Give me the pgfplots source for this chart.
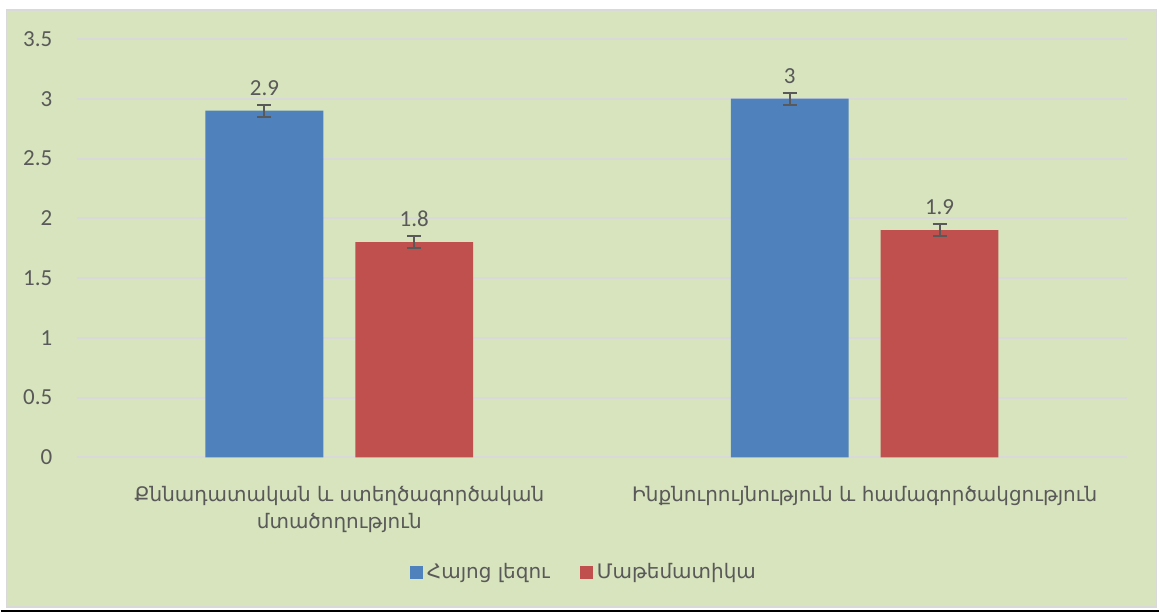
\documentclass[border=0pt]{standalone}
\usepackage{fontspec}
\setmainfont{Carlito}
\newfontfamily\armfont{DejaVu Sans}
\usepackage{pgfplots}
\pgfplotsset{compat=1.18}

\definecolor{bggreen}{HTML}{D7E4BD}
\definecolor{framegrey}{HTML}{D9D9D9}
\definecolor{gridgrey}{HTML}{D9D9D9}
\definecolor{txtgrey}{HTML}{595959}
\definecolor{barblue}{HTML}{4F81BD}
\definecolor{barred}{HTML}{C0504D}

\begin{document}
\begin{tikzpicture}
  % page and chart area
  \fill[white] (0,0) rectangle (580pt,307pt);
  \filldraw[fill=bggreen, draw=framegrey, line width=0.75pt] (3pt,3pt) rectangle (578.5pt,302pt);
  \draw[black, line width=0.75pt] (0,1pt) -- (580pt,1pt);

  \begin{axis}[
    at={(38pt,78pt)}, anchor=south west,
    scale only axis,
    width=526pt, height=209.5pt,
    xmin=-0.5, xmax=1.5,
    ymin=0, ymax=3.5,
    ytick={0,0.5,...,3.5},
    xtick={0,1},
    xticklabels={{Քննադատական և ստեղծագործական\\մտածողություն},
                 {Ինքնուրույնություն և համագործակցություն}},
    axis line style={draw=none},
    tick style={draw=none},
    ymajorgrids,
    grid style={gridgrey, line width=1pt},
    /pgf/number format/assume math mode=true,
    yticklabel style={font=\fontsize{11.5}{13.8}\selectfont, text=txtgrey,
      anchor=east, inner sep=0pt, xshift=-12pt},
    xticklabel style={font=\armfont\fontsize{10}{13.5}\selectfont, text=txtgrey,
      align=center, anchor=north, inner sep=0pt, yshift=-10pt},
    ybar,
    bar width=59pt,
    nodes near coords,
    nodes near coords style={font=\fontsize{11.5}{13.8}\selectfont, text=txtgrey,
      anchor=south, inner sep=0pt, yshift=7.5pt},
    error bars/y dir=both,
    error bars/y explicit,
    error bars/error bar style={txtgrey, line width=1pt},
    error bars/error mark options={rotate=90, mark size=3.5pt, line width=1pt, txtgrey},
    legend columns=-1,
    legend style={at={(axis description cs:0.4838,-0.2745)}, anchor=center,
      draw=none, fill=none, font=\armfont\fontsize{10}{12}\selectfont, text=txtgrey,
      /tikz/every even column/.append style={column sep=13pt}},
    legend image code/.code={\fill[#1] (0pt,-3.25pt) rectangle (6.5pt,3.25pt);},
  ]
    \addplot[fill=barblue, draw=none, bar shift=-37.5pt]
      coordinates {(0,2.9) +- (0,0.05) (1,3.0) +- (0,0.05)};
    \addplot[fill=barred, draw=none, bar shift=37.5pt]
      coordinates {(0,1.8) +- (0,0.05) (1,1.9) +- (0,0.05)};
    \legend{Հայոց լեզու, Մաթեմատիկա}
  \end{axis}
\end{tikzpicture}
\end{document}
